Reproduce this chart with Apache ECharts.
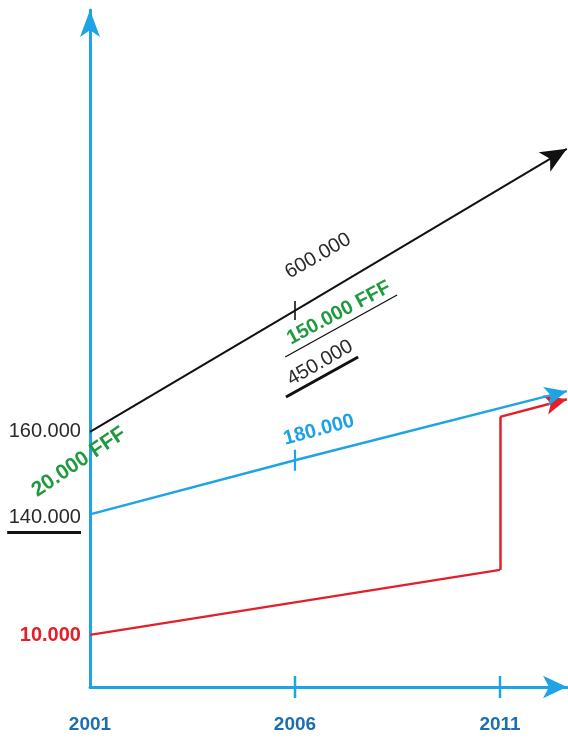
<!DOCTYPE html>
<html><head><meta charset="utf-8">
<script src="https://cdn.jsdelivr.net/npm/echarts@6/dist/echarts.min.js"></script>
<style>html,body{margin:0;padding:0;background:#fff;}#c{width:568px;height:738px;}</style>
</head><body><div id="c"></div>
<script>
// ---- data (schematic heights) ----
const yearTicks = [2001, 2006, 2011];
const blackX = [2001, 2006, 2012.63];
const blackY = [37.7, 55.6, 79.5];
const blueX = [2001, 2006, 2012.63];
const blueY = [25.5, 33.5, 43.7];
const redX = [2001, 2011, 2011, 2012.63];
const redY = [7.7, 17.3, 39.9, 42.5];
const valueLabels = ['160.000', '140.000', '10.000', '20.000 FFF', '600.000', '150.000 FFF', '450.000', '180.000'];

// ---- layout of annotations (data-space anchors) ----
const labelLayout = [
  {at: [2000.78, 37.67], rotate: 0, align: 'right', color: '#2a2a2a', weight: 'normal', size: 20},
  {at: [2000.78, 25.11], rotate: 0, align: 'right', color: '#2a2a2a', weight: 'normal', size: 20},
  {at: [2000.78, 7.68], rotate: 0, align: 'right', color: '#e3202a', weight: 'bold', size: 20},
  {at: [2000.73, 33.23], rotate: 34, align: 'center', color: '#1f9a3e', weight: 'bold', size: 21},
  {at: [2006.56, 63.66], rotate: 30, align: 'center', color: '#2a2a2a', weight: 'normal', size: 20},
  {at: [2007.07, 55.24], rotate: 28, align: 'center', color: '#1f9a3e', weight: 'bold', size: 20},
  {at: [2006.61, 47.86], rotate: 30, align: 'center', color: '#2a2a2a', weight: 'normal', size: 20},
  {at: [2006.58, 37.96], rotate: 15, align: 'center', color: '#1ea0e6', weight: 'bold', size: 20}
];
const underlines = [
  {coords: [[1998.98, 22.9], [2000.78, 22.9]], width: 3},
  {coords: [[2005.76, 48.74], [2008.49, 57.9]], width: 1.3},
  {coords: [[2005.78, 42.84], [2007.54, 48.74]], width: 3}
];

const BLUE = '#1ea3e4';
const RED = '#e3202a';
const fontMain = 'Liberation Sans, Arial, sans-serif';

function pathSeries(xs, ys, color, width, arrowSize) {
  const pts = xs.map((x, i) => [x, ys[i]]);
  const segs = [];
  for (let i = 0; i < pts.length - 1; i++) segs.push({coords: [pts[i], pts[i + 1]]});
  const common = {type: 'lines', coordinateSystem: 'cartesian2d', clip: false, silent: true,
    lineStyle: {color: color, width: width, opacity: 1, curveness: 0}};
  return [
    Object.assign({}, common, {symbol: 'none', data: segs.slice(0, -1)}),
    Object.assign({}, common, {symbol: ['none', 'arrow'], symbolSize: [0, arrowSize], data: segs.slice(-1)})
  ];
}

const chart = echarts.init(document.getElementById('c'), null, {renderer: 'canvas'});
chart.setOption({
  animation: false,
  backgroundColor: '#fff',
  grid: {left: 90, right: 1, top: 10, bottom: 51, containLabel: false},
  xAxis: {
    type: 'value', min: 2001, max: 2012.634,
    splitLine: {show: false},
    axisTick: {show: false},
    axisLine: {show: true, symbol: ['none', 'arrow'], symbolSize: [17, 24],
      lineStyle: {color: BLUE, width: 3}},
    axisLabel: {customValues: yearTicks, formatter: v => String(v), margin: 28,
      fontSize: 19, fontWeight: 'bold', color: '#1d6db3', fontFamily: fontMain}
  },
  yAxis: {
    type: 'value', min: 0, max: 100,
    splitLine: {show: false}, axisTick: {show: false}, axisLabel: {show: false},
    axisLine: {show: true, symbol: ['none', 'arrow'], symbolSize: [15, 27],
      lineStyle: {color: BLUE, width: 3}}
  },
  series: [].concat(
    pathSeries(redX, redY, RED, 2.5, [15, 22]),
    pathSeries(blueX, blueY, BLUE, 2.5, [15, 22]),
    pathSeries(blackX, blackY, '#111', 2, [17, 26]),
    [
    {type: 'lines', coordinateSystem: 'cartesian2d', clip: false, silent: true,
      symbol: 'none',
      lineStyle: {color: '#111', opacity: 1},
      data: underlines.map(u => ({coords: u.coords, lineStyle: {width: u.width}}))},
    {type: 'scatter', clip: false, silent: true, symbol: 'rect', itemStyle: {opacity: 1},
      data: [
        {value: [yearTicks[1], 0], symbolSize: [2.5, 22], itemStyle: {color: BLUE}},
        {value: [yearTicks[2], 0], symbolSize: [2.5, 22], itemStyle: {color: BLUE}},
        {value: [blackX[1], blackY[1]], symbolSize: [1.6, 19], itemStyle: {color: '#111'}},
        {value: [blueX[1], blueY[1]], symbolSize: [2.2, 21], itemStyle: {color: BLUE}}
      ]},
    {type: 'scatter', clip: false, silent: true, symbolSize: 2,
      itemStyle: {color: 'rgba(0,0,0,0)', opacity: 1},
      data: valueLabels.map((t, i) => ({
        value: labelLayout[i].at,
        label: {show: true, position: 'inside', formatter: t, rotate: labelLayout[i].rotate,
          align: labelLayout[i].align, verticalAlign: 'middle', opacity: 1,
          color: labelLayout[i].color, fontWeight: labelLayout[i].weight,
          textBorderWidth: 0, fontSize: labelLayout[i].size, fontFamily: fontMain}
      }))}
    ])
});
</script></body></html>
